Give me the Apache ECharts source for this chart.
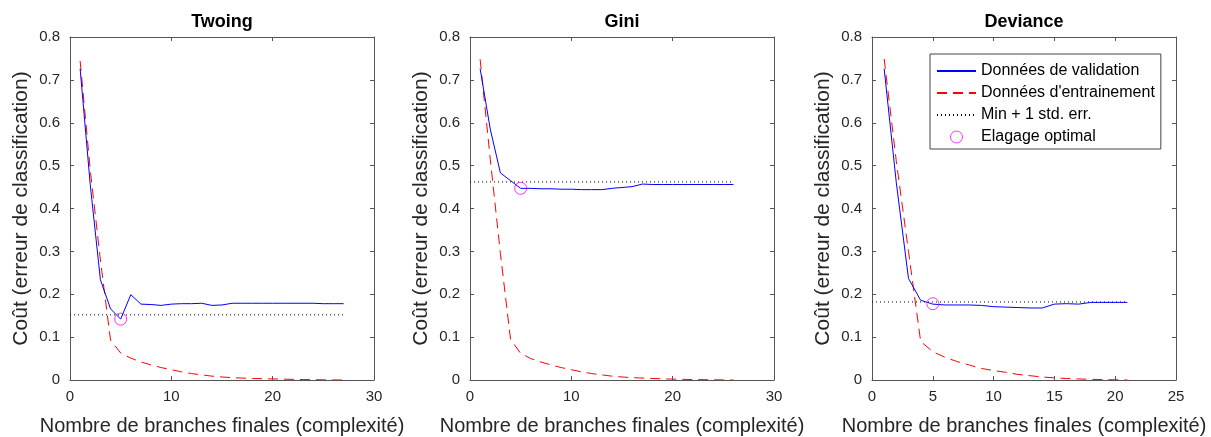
<!DOCTYPE html>
<html>
<head>
<meta charset="utf-8">
<script src="https://cdn.jsdelivr.net/npm/echarts@6/dist/echarts.min.js"></script>
<style>
  html, body { margin: 0; padding: 0; background: #fff; }
  #chart { width: 1211px; height: 437px; }
</style>
</head>
<body>
<div id="chart"></div>
<script>
// Titres des trois critères de division
const criteres = ['Twoing', 'Gini', 'Deviance'];

// Coût de validation croisée (x = 1..N branches finales)
const twoingValidation = [0.726, 0.455, 0.234, 0.166, 0.142, 0.199, 0.177, 0.176, 0.174, 0.177, 0.178, 0.178, 0.179, 0.174, 0.175, 0.179, 0.179, 0.179, 0.179, 0.179, 0.179, 0.179, 0.179, 0.179, 0.178, 0.178, 0.178];
const giniValidation = [0.726, 0.585, 0.483, 0.465, 0.447, 0.447, 0.446, 0.446, 0.445, 0.445, 0.444, 0.444, 0.444, 0.447, 0.449, 0.451, 0.457, 0.456, 0.456, 0.456, 0.456, 0.456, 0.456, 0.456, 0.456, 0.456];
const devianceValidation = [0.726, 0.46, 0.237, 0.186, 0.177, 0.175, 0.175, 0.175, 0.174, 0.171, 0.170, 0.169, 0.168, 0.168, 0.177, 0.178, 0.177, 0.181, 0.181, 0.181, 0.181];

// Coût de resubstitution (données d'entrainement)
const twoingTraining = [0.744, 0.49, 0.28, 0.093, 0.063, 0.051, 0.042, 0.035, 0.029, 0.024, 0.019, 0.015, 0.012, 0.009, 0.007, 0.0055, 0.0045, 0.0035, 0.003, 0.0025, 0.002, 0.0015, 0.001, 0.0008, 0.0005, 0.0002, 0];
const giniTraining = [0.748, 0.515, 0.295, 0.095, 0.062, 0.05, 0.042, 0.035, 0.029, 0.024, 0.019, 0.015, 0.012, 0.009, 0.007, 0.0055, 0.0045, 0.0035, 0.0028, 0.002, 0.0015, 0.001, 0.0008, 0.0005, 0.0002, 0];
const devianceTraining = [0.749, 0.51, 0.30, 0.09, 0.066, 0.053, 0.043, 0.035, 0.027, 0.022, 0.018, 0.013, 0.01, 0.007, 0.005, 0.0035, 0.0025, 0.0015, 0.001, 0.0005, 0];

// Min + 1 erreur standard, et élagage optimal
const minPlusSE = [0.152, 0.462, 0.182];
const bestLeaves = [5, 5, 5];
const bestCost = [0.142, 0.447, 0.178];

// Axes x
const xMax = [30, 30, 25];
const xInterval = [10, 10, 5];

const validation = [twoingValidation, giniValidation, devianceValidation];
const training = [twoingTraining, giniTraining, devianceTraining];

const FONT = 'Liberation Sans, Arial, sans-serif';
const AXIS_COLOR = '#555';
const TEXT_COLOR = '#262626';
const lefts = [70, 470, 872];
const W = 304;

const toPairs = arr => arr.map((v, i) => [i + 1, v]);

const grid = [], xAxis = [], yAxis = [], series = [], title = [];

criteres.forEach((nom, k) => {
  grid.push({ left: lefts[k], top: 37, width: W, height: 343, containLabel: false, outerBoundsMode: 'none' });
  title.push({
    text: nom, left: lefts[k] + W / 2, top: 13, textAlign: 'center', padding: 0,
    textStyle: { fontFamily: FONT, fontSize: 18, fontWeight: 'bold', color: '#000' }
  });

  const axisCommon = {
    gridIndex: k,
    axisLine: { show: true, onZero: false, lineStyle: { color: AXIS_COLOR, width: 1 } },
    axisTick: { show: true, inside: true, length: 4, lineStyle: { color: AXIS_COLOR } },
    splitLine: { show: false }
  };

  // x en bas
  xAxis.push(Object.assign({}, axisCommon, {
    type: 'value', position: 'bottom', min: 0, max: xMax[k], interval: xInterval[k],
    name: 'Nombre de branches finales (complexité)', nameLocation: 'middle', nameGap: 36,
    nameTextStyle: { fontFamily: FONT, fontSize: 20, color: TEXT_COLOR },
    axisLabel: { fontFamily: FONT, fontSize: 15, color: TEXT_COLOR, margin: 9 }
  }));
  // x en haut (cadre)
  xAxis.push(Object.assign({}, axisCommon, {
    type: 'value', position: 'top', min: 0, max: xMax[k], interval: xInterval[k],
    axisLabel: { show: false }
  }));
  // y à gauche
  yAxis.push(Object.assign({}, axisCommon, {
    type: 'value', position: 'left', min: 0, max: 0.8, interval: 0.1,
    name: 'Coût (erreur de classification)', nameLocation: 'middle', nameGap: 38,
    nameTextStyle: { fontFamily: FONT, fontSize: 21, color: TEXT_COLOR },
    axisLabel: {
      fontFamily: FONT, fontSize: 15, color: TEXT_COLOR, margin: 10,
      formatter: v => String(+v.toFixed(1))
    }
  }));
  // y à droite (cadre)
  yAxis.push(Object.assign({}, axisCommon, {
    type: 'value', position: 'right', min: 0, max: 0.8, interval: 0.1,
    axisLabel: { show: false }
  }));

  const xi = 2 * k, yi = 2 * k;
  const n = validation[k].length;

  series.push({
    name: 'Données de validation', type: 'line', xAxisIndex: xi, yAxisIndex: yi,
    data: toPairs(validation[k]), showSymbol: false, symbol: 'none', silent: true,
    lineStyle: { color: '#0000ff', width: 1 }, itemStyle: { color: '#0000ff' }, z: 3
  });
  series.push({
    name: "Données d'entrainement", type: 'line', xAxisIndex: xi, yAxisIndex: yi,
    data: toPairs(training[k]), showSymbol: false, symbol: 'none', silent: true,
    lineStyle: { color: '#ff0000', width: 1, type: [10, 6] }, itemStyle: { color: '#ff0000' }, z: 2
  });
  series.push({
    name: 'Min + 1 std. err.', type: 'line', xAxisIndex: xi, yAxisIndex: yi,
    data: [[0, minPlusSE[k]], [n, minPlusSE[k]]], showSymbol: false, symbol: 'none', silent: true,
    lineStyle: { color: '#000000', width: 1, type: [1, 3] }, itemStyle: { color: '#000000' }, z: 1
  });
  series.push({
    name: 'Elagage optimal', type: 'scatter', xAxisIndex: xi, yAxisIndex: yi,
    data: [[bestLeaves[k], bestCost[k]]], symbol: 'circle', symbolSize: 12, silent: true,
    itemStyle: { color: 'rgba(0,0,0,0)', borderColor: '#ff00ff', borderWidth: 1 }, z: 4
  });
});

const chart = echarts.init(document.getElementById('chart'));
chart.setOption({
  animation: false,
  backgroundColor: '#fff',
  title: title,
  grid: grid,
  xAxis: xAxis,
  yAxis: yAxis,
  legend: {
    orient: 'vertical', left: 930, top: 54,
    padding: [9, 6, 4, 6], itemGap: 6, itemWidth: 39, itemHeight: 12,
    backgroundColor: '#fff', borderColor: '#444', borderWidth: 1, borderRadius: 0,
    selectedMode: false,
    textStyle: { fontFamily: FONT, fontSize: 16, color: '#000' },
    data: [
      { name: 'Données de validation', itemStyle: { opacity: 0 } },
      { name: "Données d'entrainement", itemStyle: { opacity: 0 } },
      { name: 'Min + 1 std. err.', itemStyle: { opacity: 0 } },
      { name: 'Elagage optimal', icon: 'circle',
        itemStyle: { color: 'rgba(0,0,0,0)', borderColor: '#ff00ff', borderWidth: 1 } }
    ]
  },
  series: series
});
</script>
</body>
</html>
